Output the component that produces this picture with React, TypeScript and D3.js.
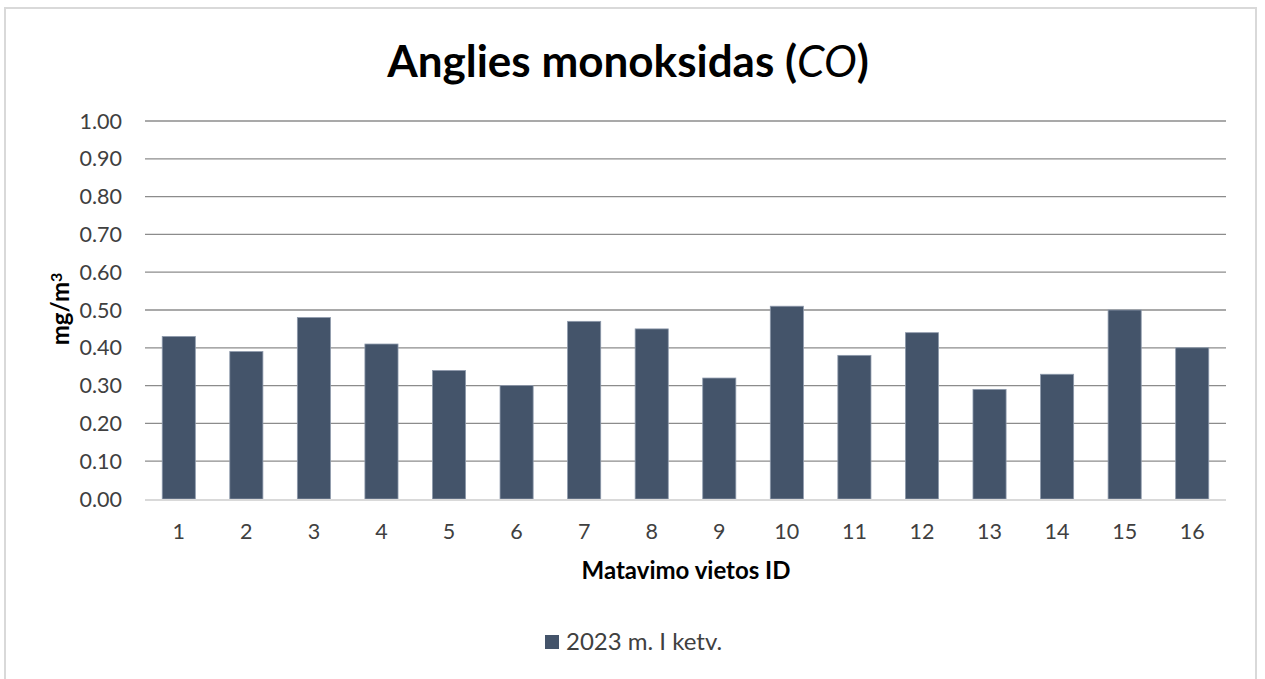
import React from "react";
import * as d3 from "d3";

const categories = ["1","2","3","4","5","6","7","8","9","10","11","12","13","14","15","16"];
const values = [0.43,0.39,0.48,0.41,0.34,0.30,0.47,0.45,0.32,0.51,0.38,0.44,0.29,0.33,0.50,0.40];
const yTicks = [0,0.1,0.2,0.3,0.4,0.5,0.6,0.7,0.8,0.9,1.0];
const seriesName = "2023 m. I ketv.";

const W = 1265, H = 679;
const left = 145, right = 1226, top = 121, bottom = 499;
const FONT = "Lato, 'Open Sans', sans-serif";
const BAR = "#44546A";

export default function App() {
  const x = d3.scaleBand<string>().domain(categories).range([left, right]).paddingInner(0.51).paddingOuter(0.255);
  const y = d3.scaleLinear().domain([0, 1]).range([bottom, top]);
  return (
    <svg width={W} height={H} style={{ position: "absolute", left: 0, top: 0, background: "#fff" }} fontFamily={FONT}>
      <rect x={5} y={8} width={1251} height={690} fill="#fff" stroke="#d9d9d9" strokeWidth={2} />
      <text x={628} y={77} textAnchor="middle" fontSize={44} fontWeight={700} fill="#000">
        Anglies monoksidas (<tspan fontStyle="italic" fontWeight={400}>CO</tspan>)
      </text>
      {yTicks.map((t) => (
        <g key={t}>
          {t > 0 && <line x1={left} x2={right} y1={y(t)} y2={y(t)} stroke="#8c8c8c" strokeWidth={1.3} />}
          <text x={122} y={y(t)} dy="0.35em" textAnchor="end" fontSize={21.5} fill="#404040">{t.toFixed(2)}</text>
        </g>
      ))}
      {categories.map((c, i) => (
        <rect key={c} x={x(c)} y={y(values[i])} width={x.bandwidth()} height={bottom - y(values[i])}
          fill={BAR} stroke="#8e9aac" strokeWidth={0.8} />
      ))}
      <line x1={left} x2={right} y1={bottom + 1} y2={bottom + 1} stroke="#d9d9d9" strokeWidth={2} />
      {categories.map((c) => (
        <text key={c} x={(x(c) as number) + x.bandwidth() / 2} y={531} dy="0.35em" textAnchor="middle" fontSize={21.5} fill="#404040">{c}</text>
      ))}
      <text x={686} y={571} dy="0.35em" textAnchor="middle" fontSize={24} fontWeight={700} fill="#000">Matavimo vietos ID</text>
      <text transform={`translate(61,309) rotate(-90)`} dy="0.35em" textAnchor="middle" fontSize={24} fontWeight={700} fill="#000">
        mg/m<tspan fontSize={16} dy="-0.45em">3</tspan>
      </text>
      <rect x={545} y={635} width={14} height={14} fill={BAR} />
      <text x={566} y={642} dy="0.35em" fontSize={24} fill="#404040">{seriesName}</text>
    </svg>
  );
}
